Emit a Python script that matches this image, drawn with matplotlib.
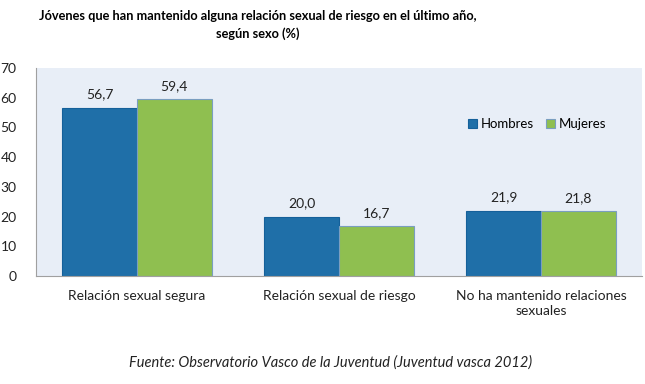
import matplotlib.pyplot as plt
import numpy as np

plt.rcParams['font.family'] = ['Lato', 'DejaVu Sans']

categorias = ["Relación sexual segura", "Relación sexual de riesgo",
              "No ha mantenido relaciones\nsexuales"]
hombres = [56.7, 20.0, 21.9]
mujeres = [59.4, 16.7, 21.8]
series = ["Hombres", "Mujeres"]

titulo = ("Jóvenes que han mantenido alguna relación sexual de riesgo en el último año,\n"
          "según sexo (%)")
fuente = "Fuente: Observatorio Vasco de la Juventud (Juventud vasca 2012)"

fig = plt.figure(figsize=(6.45, 3.84), dpi=100)
ax = fig.add_axes([0.0558, 0.281, 0.9395, 0.542])
ax.set_facecolor('#e8eef7')

x = np.arange(len(categorias))
w = 0.37
b1 = ax.bar(x - w / 2, hombres, w, color='#1f6fa8', edgecolor='#15609a', linewidth=0.8, label=series[0])
b2 = ax.bar(x + w / 2, mujeres, w, color='#8fbf50', edgecolor='#7a9ec0', linewidth=0.8, label=series[1])

for bars, vals in ((b1, hombres), (b2, mujeres)):
    for r, v in zip(bars, vals):
        ax.text(r.get_x() + r.get_width() / 2, v + 2.5, f"{v:.1f}".replace('.', ','),
                ha='center', va='bottom', fontsize=10, color='#222222')

ax.set_xlim(-0.5, 2.5)
ax.set_ylim(0, 70)
ax.set_yticks(range(0, 71, 10))
ax.set_xticks(x)
ax.set_xticklabels(categorias, fontsize=10, color='#222222', linespacing=1.3)
ax.tick_params(axis='x', length=0, pad=10)
ax.tick_params(axis='y', length=0, labelsize=10, labelcolor='#222222', pad=14)
for s in ['top', 'right']:
    ax.spines[s].set_visible(False)
ax.spines['left'].set_color('#a0a0a0')
ax.spines['bottom'].set_color('#a0a0a0')

ax.legend(loc='center', bbox_to_anchor=(0.827, 0.731), ncol=2, frameon=False,
          fontsize=9.5, handlelength=0.7, handleheight=0.7, handletextpad=0.3,
          columnspacing=0.9, borderpad=0)

fig.text(0.40, 0.935, titulo, ha='center', va='center', fontsize=9.2,
         fontweight='bold', linespacing=1.5)
fig.text(0.512, 0.057, fuente, ha='center', va='center', fontsize=10.5,
         style='italic', color='#222222')

fig.savefig('out.png', dpi=100)
